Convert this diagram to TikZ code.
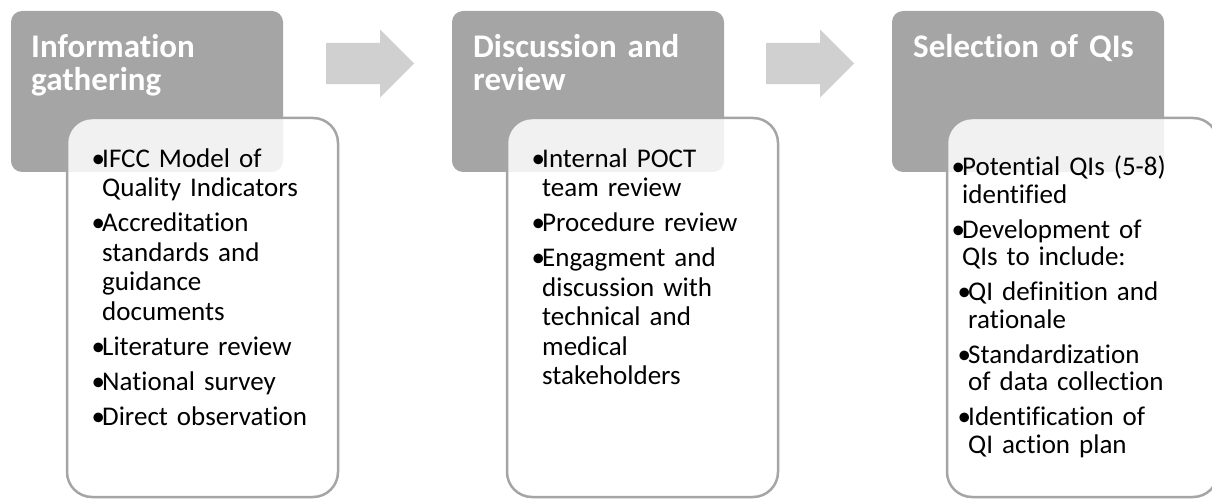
\documentclass[tikz,border=0pt]{standalone}
\usepackage{fontspec}
\setmainfont{Carlito}[Ligatures=NoCommon]
\usetikzlibrary{shapes.arrows}

\definecolor{stagegray}{HTML}{A5A5A5}
\definecolor{arrowgray}{HTML}{D0D0D0}

% bullet lists inside the detail boxes
\newlength{\bulw}
\setlength{\bulw}{10.5pt}
\newcommand{\bul}[1]{\noindent\hangindent=\bulw\hangafter=1\makebox[\bulw][l]{\textbullet}#1\par}
\newcommand{\subbul}[1]{\noindent\hangindent=\dimexpr\bulw+6pt\relax\hangafter=1\hspace*{6pt}\makebox[\bulw][l]{\textbullet}#1\par}

\begin{document}
\begin{tikzpicture}[
    x=1pt, y=-1pt,
    stage/.style={rectangle, rounded corners=11pt, fill=stagegray, minimum width=272pt, minimum height=161pt, inner sep=0pt},
    detail/.style={rectangle, rounded corners=25pt, draw=stagegray, line width=2.5pt, fill=white, fill opacity=0.85, minimum width=271pt, minimum height=379pt, inner sep=0pt},
    title/.style={anchor=base west, text width=250pt, inner sep=0pt, text=white, font=\bfseries\fontsize{33}{33}\selectfont},
    items/.style={anchor=base west, text width=260pt, inner sep=0pt, font=\fontsize{27}{29.5}\selectfont},
    nextarrow/.style={single arrow, fill=arrowgray, draw=none, minimum height=88pt, inner xsep=0pt, inner ysep=20.5pt, single arrow head extend=13.5pt, single arrow head indent=0pt, anchor=tail},
]
\useasboundingbox (0,0) rectangle (1212,502);
\clip (0,0) rectangle (1212,502);

% stage headers
\node[stage] (S1) at (147,91.5) {};
\node[stage] (S2) at (588,91.5) {};
\node[stage] (S3) at (1028,91.5) {};

% arrows between the stages
\node[nextarrow] (A1) at (326,63.5) {};
\node[nextarrow] (A2) at (766,63.5) {};

% detail boxes
\node[detail] (D1) at (202.5,307.5) {};
\node[detail] (D2) at (642.5,307.5) {};
\node[detail] (D3) at (1082.5,307.5) {};

% titles
\node[title] (T1) at (31,58) {Information\newline gathering};
\node[title] (T2) at (473,58) {Discussion and\newline review};
\node[title] (T3) at (913,58) {Selection of QIs};

% 1 - Information gathering
\node[items] (L1) at (91.5,167.5) {\setlength{\parskip}{5.5pt}%
  \bul{IFCC Model of\newline Quality Indicators}%
  \bul{Accreditation\newline standards and\newline guidance\newline documents}%
  \bul{Literature review}%
  \bul{National survey}%
  \bul{Direct observation}};

% 2 - Discussion and review
\node[items] (L2) at (531.5,167.5) {\setlength{\parskip}{5.5pt}%
  \bul{Internal POCT\newline team review}%
  \bul{Procedure review}%
  \bul{Engagment and\newline discussion with\newline technical and\newline medical\newline stakeholders}};

% 3 - Selection of QIs (tighter lines, wider gaps)
\node[items, font=\fontsize{27}{27.5}\selectfont] (L3) at (951.5,176) {\setlength{\parskip}{7.5pt}%
  \bul{Potential QIs (5-8)\newline identified}%
  \bul{Development of\newline QIs to include:}%
  \subbul{QI definition and\newline rationale}%
  \subbul{Standardization\newline of data collection}%
  \subbul{Identification of\newline QI action plan}};
\end{tikzpicture}
\end{document}
